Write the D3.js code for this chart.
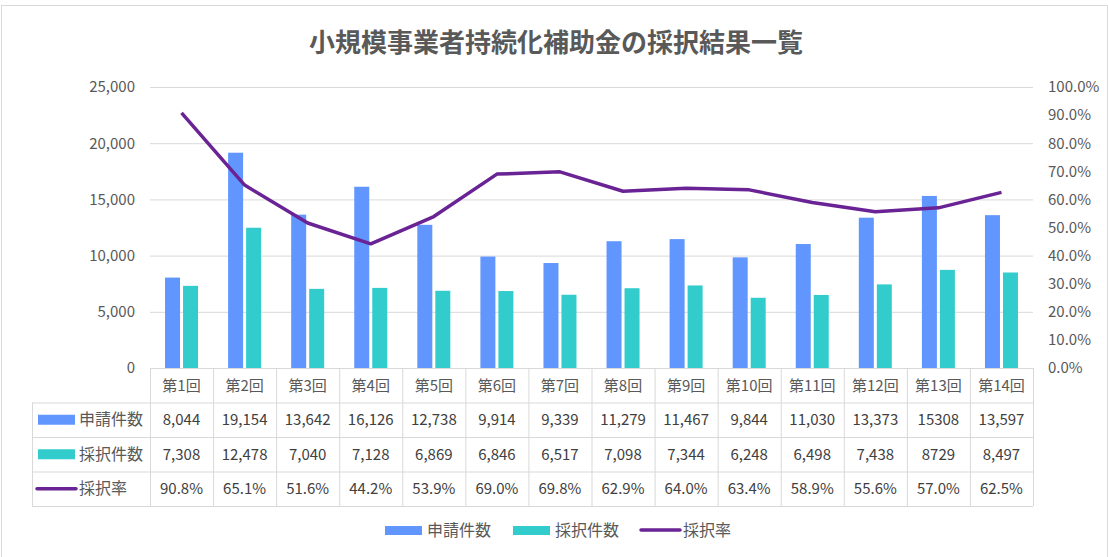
<!DOCTYPE html>
<html>
<head>
  <meta charset="UTF-8">
  <title>小規模事業者持続化補助金の採択結果一覧</title>
  <style>
    body { margin: 0; background: #fff; font-family: "Noto Sans CJK JP", "Noto Sans", sans-serif; }
  </style>
</head>
<body>
  <div id="chart"></div>
  <script src="https://cdn.jsdelivr.net/npm/d3@7"></script>
  <script>
    // data
    var rounds = ["第1回", "第2回", "第3回", "第4回", "第5回", "第6回", "第7回",
      "第8回", "第9回", "第10回", "第11回", "第12回", "第13回", "第14回"];
    var applied = [8044, 19154, 13642, 16126, 12738, 9914, 9339, 11279, 11467, 9844, 11030, 13373, 15308, 13597];
    var adopted = [7308, 12478, 7040, 7128, 6869, 6846, 6517, 7098, 7344, 6248, 6498, 7438, 8729, 8497];
    var rate = [90.8, 65.1, 51.6, 44.2, 53.9, 69.0, 69.8, 62.9, 64.0, 63.4, 58.9, 55.6, 57.0, 62.5];
    // the table prints two cells without a thousands separator
    var appliedLabels = ["8,044", "19,154", "13,642", "16,126", "12,738", "9,914", "9,339",
      "11,279", "11,467", "9,844", "11,030", "13,373", "15308", "13,597"];
    var adoptedLabels = ["7,308", "12,478", "7,040", "7,128", "6,869", "6,846", "6,517",
      "7,098", "7,344", "6,248", "6,498", "7,438", "8729", "8,497"];
    var leftTicks = [0, 5000, 10000, 15000, 20000, 25000];
    var rightTicks = [0, 10, 20, 30, 40, 50, 60, 70, 80, 90, 100];
    var seriesNames = ["申請件数", "採択件数", "採択率"];

    var W = 1109, H = 557;
    var blue = "#6196ff", teal = "#33cccc", purple = "#6a2394";
    var grid = "#d9d9d9", txt = "#404040", axisTxt = "#595959";

    var plotLeft = 150, plotRight = 1033, plotTop = 87, plotBottom = 368;

    var svg = d3.select('#chart').append('svg')
      .attr('width', W).attr('height', H)
      .style('font-family', '"Noto Sans CJK JP", "Noto Sans", sans-serif');

    svg.append('rect').attr('x', 1.5).attr('y', 5.5).attr('width', W - 3).attr('height', H + 10)
      .attr('fill', 'white').attr('stroke', '#d9d9d9');

    svg.append('text').text('小規模事業者持続化補助金の採択結果一覧')
      .attr('x', 556).attr('y', 52).attr('text-anchor', 'middle')
      .attr('font-size', 26).attr('font-weight', 'bold').attr('fill', '#595959');

    var x = d3.scaleBand().domain(rounds).range([plotLeft, plotRight]);
    var y = d3.scaleLinear().domain([0, 25000]).range([plotBottom, plotTop]);
    var y2 = d3.scaleLinear().domain([0, 100]).range([plotBottom, plotTop]);

    // gridlines
    svg.append('g').selectAll('line').data(leftTicks.slice(1)).enter().append('line')
      .attr('x1', plotLeft).attr('x2', plotRight)
      .attr('y1', d => y(d) + 0.5).attr('y2', d => y(d) + 0.5)
      .attr('stroke', grid).attr('stroke-width', 1);

    // left axis
    var yAxis = svg.append('g').attr('transform', 'translate(' + (plotLeft - 15) + ',0)')
      .call(d3.axisLeft(y).tickValues(leftTicks).tickFormat(d3.format(',')).tickSize(0).tickPadding(0));
    yAxis.select('.domain').remove();
    yAxis.selectAll('text').attr('font-size', 15).attr('fill', axisTxt)
      .style('font-family', '"Noto Sans CJK JP", sans-serif');

    // right axis
    var yAxis2 = svg.append('g').attr('transform', 'translate(' + (plotRight + 15) + ',0)')
      .call(d3.axisRight(y2).tickValues(rightTicks).tickFormat(d => d.toFixed(1) + '%').tickSize(0).tickPadding(0));
    yAxis2.select('.domain').remove();
    yAxis2.selectAll('text').attr('font-size', 15).attr('fill', axisTxt)
      .style('font-family', '"Noto Sans CJK JP", sans-serif');

    // bars
    var barW = 15, gap = 3;
    svg.append('g').selectAll('rect').data(applied).enter().append('rect')
      .attr('x', (d, i) => x(rounds[i]) + x.bandwidth() / 2 - gap / 2 - barW)
      .attr('y', d => y(d)).attr('width', barW).attr('height', d => y(0) - y(d))
      .attr('fill', blue);
    svg.append('g').selectAll('rect').data(adopted).enter().append('rect')
      .attr('x', (d, i) => x(rounds[i]) + x.bandwidth() / 2 + gap / 2)
      .attr('y', d => y(d)).attr('width', barW).attr('height', d => y(0) - y(d))
      .attr('fill', teal);

    // rate line
    var line = d3.line()
      .x((d, i) => x(rounds[i]) + x.bandwidth() / 2)
      .y(d => y2(d));
    svg.append('path').datum(rate).attr('d', line)
      .attr('fill', 'none').attr('stroke', purple).attr('stroke-width', 3.5)
      .attr('stroke-linejoin', 'round');

    // data table
    var tableLeft = 32, rowH = 34.5;
    var tableBottom = plotBottom + rowH * 4;
    var tg = svg.append('g');

    // horizontal lines
    tg.append('line').attr('x1', plotLeft).attr('x2', plotRight)
      .attr('y1', plotBottom + 0.5).attr('y2', plotBottom + 0.5).attr('stroke', grid);
    [1, 2, 3, 4].forEach(function (r) {
      tg.append('line').attr('x1', tableLeft).attr('x2', plotRight)
        .attr('y1', plotBottom + rowH * r + 0.5).attr('y2', plotBottom + rowH * r + 0.5)
        .attr('stroke', grid);
    });
    // vertical lines
    tg.append('line').attr('x1', tableLeft + 0.5).attr('x2', tableLeft + 0.5)
      .attr('y1', plotBottom + rowH).attr('y2', tableBottom).attr('stroke', grid);
    rounds.concat(['end']).forEach(function (r, i) {
      var xx = i < rounds.length ? x(r) : plotRight;
      tg.append('line').attr('x1', xx + 0.5).attr('x2', xx + 0.5)
        .attr('y1', plotBottom).attr('y2', tableBottom).attr('stroke', grid);
    });

    // category header
    tg.append('g').selectAll('text').data(rounds).enter().append('text')
      .attr('x', d => x(d) + x.bandwidth() / 2).attr('y', plotBottom + rowH / 2)
      .attr('dy', '0.35em').attr('text-anchor', 'middle')
      .attr('font-size', 15).attr('fill', axisTxt).text(d => d);

    var rows = [appliedLabels, adoptedLabels, rate.map(d => d.toFixed(1) + '%')];
    rows.forEach(function (vals, r) {
      var cy = plotBottom + rowH * (r + 1) + rowH / 2;
      tg.append('g').selectAll('text').data(vals).enter().append('text')
        .attr('x', (d, i) => x(rounds[i]) + x.bandwidth() / 2).attr('y', cy)
        .attr('dy', '0.35em').attr('text-anchor', 'middle')
        .attr('font-size', 15).attr('fill', txt).text(d => d);
      // legend key in row header
      if (r < 2) {
        tg.append('rect').attr('x', 38).attr('y', cy - 5).attr('width', 37).attr('height', 10)
          .attr('fill', r === 0 ? blue : teal);
      } else {
        tg.append('line').attr('x1', 37).attr('x2', 76).attr('y1', cy).attr('y2', cy)
          .attr('stroke', purple).attr('stroke-width', 3.5).attr('stroke-linecap', 'round');
      }
      tg.append('text').attr('x', 79).attr('y', cy).attr('dy', '0.35em')
        .attr('font-size', 16).attr('fill', axisTxt).text(seriesNames[r]);
    });

    // legend
    var lg = svg.append('g').attr('transform', 'translate(0,530)');
    var legendX = [385, 513, 641];
    seriesNames.forEach(function (name, i) {
      if (i < 2) {
        lg.append('rect').attr('x', legendX[i]).attr('y', -4).attr('width', 37).attr('height', 9)
          .attr('fill', i === 0 ? blue : teal);
      } else {
        lg.append('line').attr('x1', legendX[i]).attr('x2', legendX[i] + 39).attr('y1', 0).attr('y2', 0)
          .attr('stroke', purple).attr('stroke-width', 3.5).attr('stroke-linecap', 'round');
      }
      lg.append('text').attr('x', legendX[i] + 42).attr('y', 0).attr('dy', '0.35em')
        .attr('font-size', 16).attr('fill', axisTxt).text(name);
    });
  </script>
</body>
</html>
